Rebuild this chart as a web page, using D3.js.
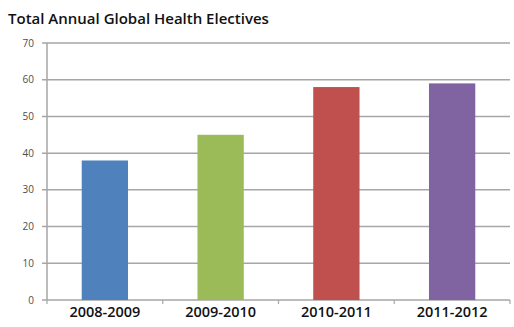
<!DOCTYPE html>
<html><head><meta charset="utf-8">
<script src="https://cdn.jsdelivr.net/npm/d3@7"></script>
<style>body{margin:0;background:#fff}svg{display:block}</style>
</head><body>
<script>
const categories = ["2008-2009","2009-2010","2010-2011","2011-2012"];
const values = [38,45,58,59];
const colors = ["#4F81BD","#9BBB59","#C0504D","#8064A2"];
const yTicks = [0,10,20,30,40,50,60,70];
const title = "Total Annual Global Health Electives";

const W=514,H=327;
const m={left:47,right:4,top:43,bottom:27};
const svg=d3.select("body").append("svg").attr("width",W).attr("height",H);
const x=d3.scaleBand().domain(categories).range([m.left,W-m.right]).padding(0);
const y=d3.scaleLinear().domain([0,70]).range([H-m.bottom,m.top]);

svg.append("text").attr("x",8).attr("y",24).text(title)
  .attr("font-family","Open Sans").attr("font-weight",600).attr("font-size",15).attr("fill","#111");

// gridlines
svg.append("g").selectAll("line").data(yTicks).join("line")
  .attr("x1",m.left-5).attr("x2",W-m.right).attr("y1",d=>y(d)).attr("y2",d=>y(d))
  .attr("stroke","#a6a6a6").attr("stroke-width",1.5);
// y axis line
svg.append("line").attr("x1",m.left).attr("x2",m.left).attr("y1",y(70)).attr("y2",y(0)).attr("stroke","#a6a6a6").attr("stroke-width",1.5);
// y labels
svg.append("g").selectAll("text").data(yTicks).join("text")
  .attr("x",34).attr("y",d=>y(d)).attr("dy","0.35em").attr("text-anchor","end")
  .attr("font-family","Open Sans").attr("font-size",10).attr("font-weight",500).attr("fill","#4d4d4d").text(d=>d);
// x ticks at boundaries
const bounds=categories.map(c=>x(c)).concat([x(categories[categories.length-1])+x.bandwidth()]);
svg.append("g").selectAll("line").data(bounds).join("line")
  .attr("x1",d=>d).attr("x2",d=>d).attr("y1",y(0)).attr("y2",y(0)+4)
  .attr("stroke","#a6a6a6").attr("stroke-width",1.2);
// bars
const bw=x.bandwidth()*0.4;
svg.append("g").selectAll("rect").data(values).join("rect")
  .attr("x",(d,i)=>x(categories[i])+x.bandwidth()/2-bw/2)
  .attr("width",bw)
  .attr("y",d=>y(d)).attr("height",d=>y(0)-y(d))
  .attr("fill",(d,i)=>colors[i]);
// category labels
svg.append("g").selectAll("text").data(categories).join("text")
  .attr("x",d=>x(d)+x.bandwidth()/2).attr("y",317).attr("text-anchor","middle")
  .attr("font-family","Open Sans").attr("font-size",14.5).attr("font-weight",600).attr("fill","#111").text(d=>d);
</script>
</body></html>
